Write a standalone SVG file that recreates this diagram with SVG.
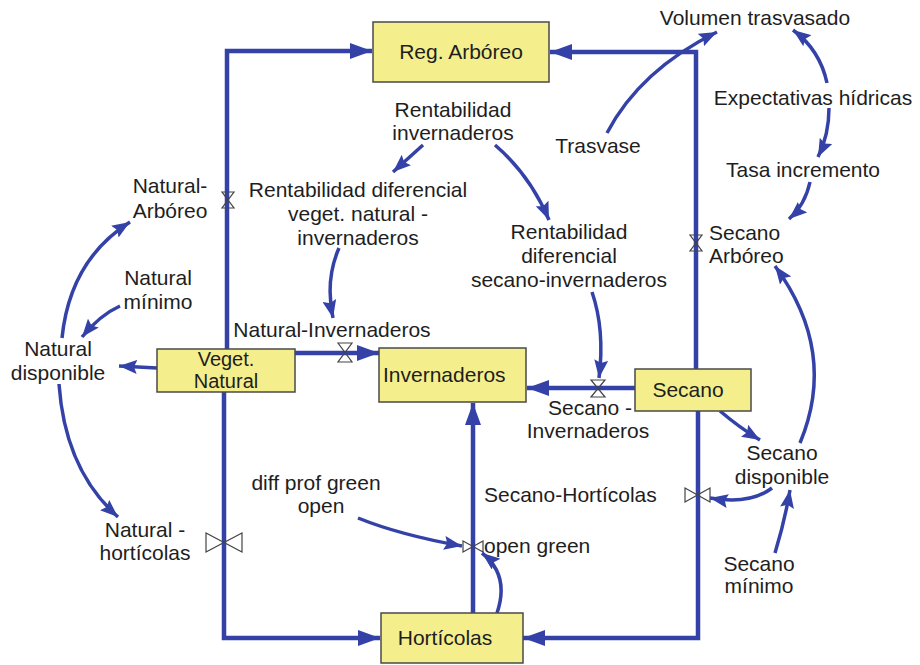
<svg xmlns="http://www.w3.org/2000/svg" width="920" height="665" viewBox="0 0 920 665">
<style>
text{font-family:"Liberation Sans",Arial,sans-serif;font-size:21px;fill:#1e1e1e}
.m{text-anchor:middle}
.box{fill:#F4EF8C;stroke:#4a4a4a;stroke-width:1.5}
.pipe{fill:none;stroke:#3442A8;stroke-width:4.5}
.link{fill:none;stroke:#3442A8;stroke-width:3.5}
.valve{fill:none;stroke:#444;stroke-width:1.2}
</style>
<defs>
<marker id="pa" markerUnits="userSpaceOnUse" markerWidth="24" markerHeight="16" refX="22" refY="8" orient="auto">
<path d="M0,0 L22,8 L0,16 Z" fill="#3442A8"/>
</marker>
<marker id="la" markerUnits="userSpaceOnUse" markerWidth="20" markerHeight="14" refX="18" refY="7" orient="auto">
<path d="M0,0 L18,7 L0,14 L3,7 Z" fill="#3442A8"/>
</marker>
</defs>
<rect width="920" height="665" fill="#fff"/>
<g id="connectors">
<path class="pipe" d="M227,349 V51 H372" marker-end="url(#pa)"/>
<path class="pipe" d="M696,369 V52 H550" marker-end="url(#pa)"/>
<path class="pipe" d="M295,353 H379" marker-end="url(#pa)"/>
<path class="pipe" d="M635,388 H527" marker-end="url(#pa)"/>
<path class="pipe" d="M473,613 V403" marker-end="url(#pa)"/>
<path class="pipe" d="M224,392 V638 H380" marker-end="url(#pa)"/>
<path class="pipe" d="M698,411 V638 H523" marker-end="url(#pa)"/>
<path class="valve" d="M222,192 H234 L222,208 H234 Z"/>
<path class="valve" d="M690,235 H702 L690,251 H702 Z"/>
<path class="valve" d="M338,343 H352 L338,362 H352 Z"/>
<path class="valve" d="M591,380 H605 L591,397 H605 Z"/>
<path class="valve" d="M206,533 V552 L242,533 V552 Z"/>
<path class="valve" d="M685,488 V502 L710,488 V502 Z"/>
<path class="valve" d="M463,541 V552 L483,541 V552 Z"/>
<path class="link" d="M607,133 Q640,70 717,32" marker-end="url(#la)"/>
<path class="link" d="M827,83 Q820,50 793,30" marker-end="url(#la)"/>
<path class="link" d="M829,108 Q829,135 818,157" marker-end="url(#la)"/>
<path class="link" d="M810,182 Q805,205 789,219" marker-end="url(#la)"/>
<path class="link" d="M800,443 Q838,352 775,266" marker-end="url(#la)"/>
<path class="link" d="M720,411 Q740,428 760,440" marker-end="url(#la)"/>
<path class="link" d="M772,488 Q750,505 710,498" marker-end="url(#la)"/>
<path class="link" d="M775,553 Q785,520 790,490" marker-end="url(#la)"/>
<path class="link" d="M423,145 L393,172" marker-end="url(#la)"/>
<path class="link" d="M495,145 Q530,175 549,220" marker-end="url(#la)"/>
<path class="link" d="M339,248 Q325,280 333,318" marker-end="url(#la)"/>
<path class="link" d="M592,292 Q605,330 599,378" marker-end="url(#la)"/>
<path class="link" d="M62,338 Q70,260 130,222" marker-end="url(#la)"/>
<path class="link" d="M120,306 Q100,315 82,337" marker-end="url(#la)"/>
<path class="link" d="M157,368 L119,366" marker-end="url(#la)"/>
<path class="link" d="M59,384 Q65,470 118,517" marker-end="url(#la)"/>
<path class="link" d="M358,518 Q400,535 462,546" marker-end="url(#la)"/>
<path class="link" d="M497,613 Q510,575 482,553" marker-end="url(#la)"/>
</g>
<g id="reg-arboreo"><rect class="box" x="373" y="22" width="176" height="60"/><text class="m" x="461" y="59">Reg. Arbóreo</text></g>
<g id="veget-natural"><rect class="box" x="157" y="349" width="138" height="43"/><text class="m" x="226" y="366" style="font-size:20px">Veget.</text><text class="m" x="226" y="388" style="font-size:20px">Natural</text></g>
<g id="invernaderos"><rect class="box" x="379" y="348" width="147" height="54"/><text x="383" y="382">Invernaderos</text></g>
<g id="secano"><rect class="box" x="635" y="369" width="116" height="42"/><text class="m" x="688" y="397">Secano</text></g>
<g id="horticolas"><rect class="box" x="381" y="613" width="142" height="50"/><text class="m" x="445" y="645">Hortícolas</text></g>
<g id="volumen-trasvasado"><text class="m" x="755" y="25">Volumen trasvasado</text></g>
<g id="expectativas-hidricas"><text class="m" x="813" y="105">Expectativas hídricas</text></g>
<g id="tasa-incremento"><text class="m" x="803" y="177">Tasa incremento</text></g>
<g id="secano-arboreo"><text x="709" y="240">Secano</text><text x="709" y="263">Arbóreo</text></g>
<g id="trasvase"><text class="m" x="598" y="153">Trasvase</text></g>
<g id="rentabilidad-invernaderos"><text class="m" x="453" y="117">Rentabilidad</text><text class="m" x="453" y="140">invernaderos</text></g>
<g id="rent-dif-veget"><text class="m" x="358" y="197">Rentabilidad diferencial</text><text class="m" x="358" y="221">veget. natural -</text><text class="m" x="358" y="245">invernaderos</text></g>
<g id="rent-dif-secano"><text class="m" x="569" y="239">Rentabilidad</text><text class="m" x="569" y="263">diferencial</text><text class="m" x="569" y="287">secano-invernaderos</text></g>
<g id="natural-invernaderos"><text class="m" x="332" y="337">Natural-Invernaderos</text></g>
<g id="natural-arboreo"><text class="m" x="170" y="193">Natural-</text><text class="m" x="170" y="218">Arbóreo</text></g>
<g id="natural-minimo"><text class="m" x="158" y="285">Natural</text><text class="m" x="158" y="309">mínimo</text></g>
<g id="natural-disponible"><text class="m" x="58" y="356">Natural</text><text class="m" x="58" y="380">disponible</text></g>
<g id="natural-horticolas"><text class="m" x="145" y="537">Natural -</text><text class="m" x="145" y="560">hortícolas</text></g>
<g id="diff-prof-green-open"><text class="m" x="316" y="490">diff prof green</text><text class="m" x="321" y="513">open</text></g>
<g id="open-green"><text x="484" y="553">open green</text></g>
<g id="secano-horticolas"><text x="484" y="502">Secano-Hortícolas</text></g>
<g id="secano-invernaderos"><text class="m" x="590" y="415">Secano -</text><text class="m" x="588" y="438">Invernaderos</text></g>
<g id="secano-disponible"><text class="m" x="782" y="460">Secano</text><text class="m" x="782" y="484">disponible</text></g>
<g id="secano-minimo"><text class="m" x="759" y="571">Secano</text><text class="m" x="759" y="593">mínimo</text></g>
</svg>
